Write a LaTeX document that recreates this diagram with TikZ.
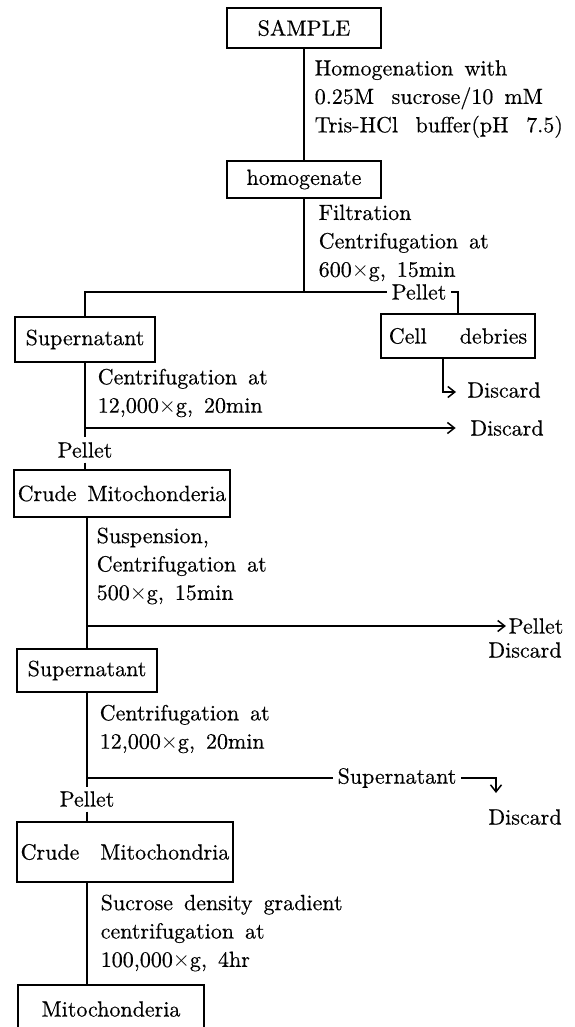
\documentclass[tikz,border=0pt]{standalone}
\usepackage{fontspec}
\setmainfont{Latin Modern Roman}[FakeBold=0.4]
\usepackage{amsmath}
\usetikzlibrary{arrows.meta}

\newcommand{\flowfont}{\fontsize{11}{14.2}\selectfont\spaceskip=0.5em plus 0.1em minus 0.1em\relax}

\begin{document}
\begin{tikzpicture}[
        x=0.5pt, y=-0.5pt,
        line width=0.75pt,
        every node/.style={font=\flowfont},
        box/.style={draw, inner sep=0pt},
        lab/.style={inner sep=2pt},
        txt/.style={anchor=west, align=left, inner sep=0pt},
        arr/.style={-{Straight Barb[length=3.5pt, width=5.5pt]}},
    ]
    \clip (0,0) rectangle (574,1027);

    \node[box, minimum width=77pt, minimum height=20pt] (sample) at (304,28) {SAMPLE};
    \node[box, minimum width=77pt, minimum height=18.5pt] (homog) at (304,179.5) {homogenate};
    \node[box, minimum width=70pt, minimum height=22.5pt] (sup1) at (85,339.5) {Supernatant};
    \node[box, minimum width=77pt, minimum height=22pt] (cell) at (458,336) {Cell\hspace{1em} debries};
    \node[box, minimum width=108pt, minimum height=23.5pt] (crude1) at (122,493.5) {Crude Mitochonderia};
    \node[box, minimum width=70pt, minimum height=21.5pt] (sup2) at (87,670.5) {Supernatant};
    \node[box, minimum width=108pt, minimum height=30pt] (crude2) at (125,852) {Crude\hspace{0.45em} Mitochondria};
    \node[box, minimum width=93pt, minimum height=24pt] (mito) at (111,1009) {Mitochonderia};

    \node[txt] (hstep) at (314,99) {Homogenation with\\0.25M\hspace{0.3em} sucrose/10 mM\\Tris-HCl\hspace{0.3em} buffer(pH\hspace{0.3em} 7.5)};
    \node[txt] (fstep) at (318,243) {Filtration\\Centrifugation at\\600$\times$g, 15min};
    \node[txt] (cstepa) at (97,393) {Centrifugation at\\12,000$\times$g, 20min};
    \node[txt] (sstep) at (96,566) {Suspension,\\Centrifugation at\\500$\times$g, 15min};
    \node[txt] (cstepb) at (99,729) {Centrifugation at\\12,000$\times$g, 20min};
    \node[txt] (gstep) at (100,933) {Sucrose density gradient\\centrifugation at\\100,000$\times$g, 4hr};

    \node[lab] (pel1) at (419,292) {Pellet};
    \node[lab] (disc1) at (504,390) {Discard};
    \node[lab] (disc2) at (507,428) {Discard};
    \node[lab] (pel2) at (85,450) {Pellet};
    \node[lab, inner sep=1pt] (pel3) at (536,626) {Pellet};
    \node[lab] (disc3) at (525,650) {Discard};
    \node[lab] (sup3) at (397,778) {Supernatant};
    \node[lab] (pel4) at (87,799) {Pellet};
    \node[lab] (disc4) at (525,817) {Discard};

    \coordinate (j1) at (304,292);
    \coordinate (d1) at (456,392);
    \coordinate (d4) at (496,793);

    \draw (sample) -- (homog);
    \draw (homog) -- (j1) -| (sup1);
    \draw (j1) -- (pel1);
    \draw (pel1) -| (cell);
    \draw[arr] ([xshift=-7.5pt]cell.south) |- (d1);
    \draw (sup1) -- (pel2);
    \draw[arr, shorten >=5pt] (pel2 |- disc2) -- (disc2);
    \draw (pel2) -- (pel2 |- crude1.north);
    \draw (crude1.south -| sup2) -- (sup2);
    \draw[arr] (sup2 |- pel3) -- (pel3);
    \draw (sup2) -- (pel4);
    \draw (sup2 |- sup3) -- (sup3);
    \draw[arr] (sup3) -| (d4);
    \draw (pel4) -- (pel4 |- crude2.north);
    \draw (crude2.south -| pel4) -- (pel4 |- mito.north);
\end{tikzpicture}
\end{document}
